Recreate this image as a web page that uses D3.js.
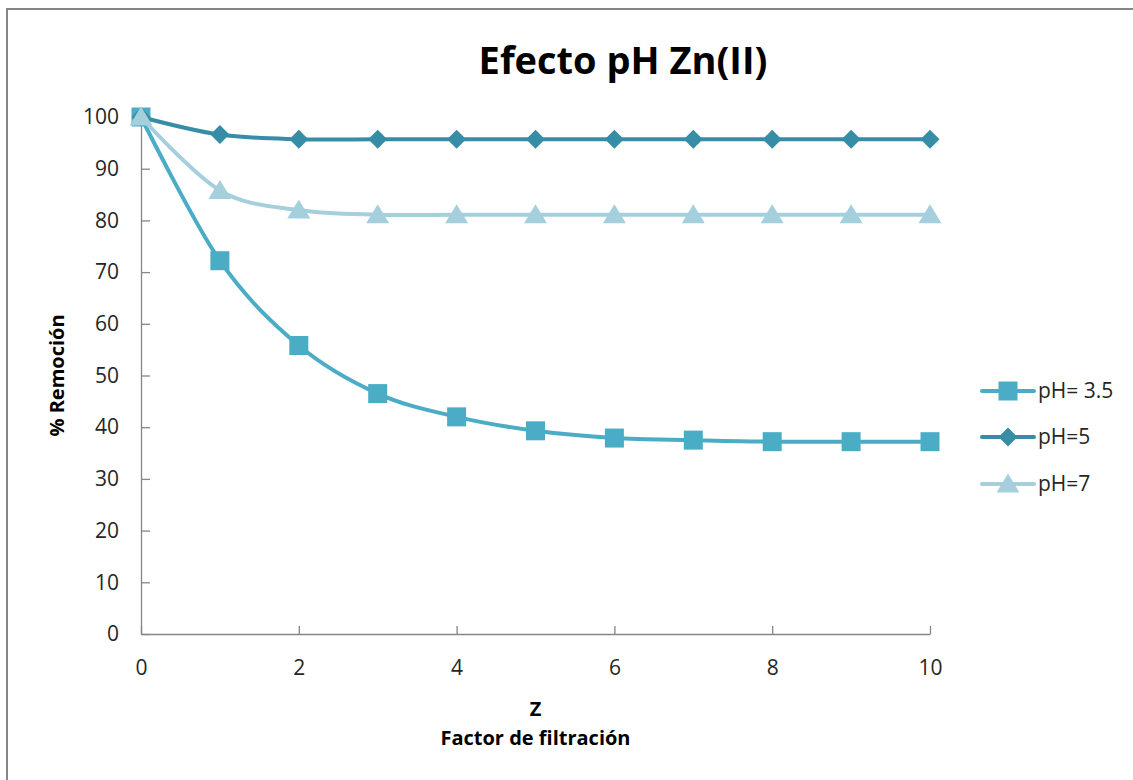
<!DOCTYPE html>
<html>
<head>
<meta charset="utf-8">
<script src="https://cdn.jsdelivr.net/npm/d3@7"></script>
<style>
  html, body { margin: 0; padding: 0; background: #fff; }
  svg { display: block; }
</style>
</head>
<body>
<script>
// ---- data ----
const zValues = [0, 1, 2, 3, 4, 5, 6, 7, 8, 9, 10];
const ph35 = [100, 72.2, 55.8, 46.5, 42.0, 39.3, 37.9, 37.5, 37.2, 37.2, 37.2];
const ph5  = [100, 96.6, 95.7, 95.7, 95.7, 95.7, 95.7, 95.7, 95.7, 95.7, 95.7];
const ph7  = [100, 85.8, 82.0, 81.1, 81.1, 81.1, 81.1, 81.1, 81.1, 81.1, 81.1];
const seriesNames = ["pH= 3.5", "pH=5", "pH=7"];
const xTicks = [0, 2, 4, 6, 8, 10];
const yTicks = [0, 10, 20, 30, 40, 50, 60, 70, 80, 90, 100];
const titleText = "Efecto pH Zn(II)";
const yTitle = "% Remoción";
const xTitle1 = "Z";
const xTitle2 = "Factor de filtración";

// ---- setup ----
const W = 1133, H = 780;
const FONT = "'Open Sans', 'DejaVu Sans', sans-serif";
const svg = d3.select("body").append("svg").attr("width", W).attr("height", H);
svg.append("rect").attr("width", W).attr("height", H).attr("fill", "#fff");
svg.append("rect").attr("x", 7).attr("y", 9).attr("width", W + 20).attr("height", H + 20)
  .attr("fill", "none").attr("stroke", "#868686").attr("stroke-width", 2);

const x = d3.scaleLinear().domain([0, 10]).range([141, 930]);
const y = d3.scaleLinear().domain([0, 100]).range([634, 117]);

const series = [
  { name: seriesNames[0], values: ph35, color: "#4bacc6", marker: "square" },
  { name: seriesNames[1], values: ph5,  color: "#378da6", marker: "diamond" },
  { name: seriesNames[2], values: ph7,  color: "#a5cfdd", marker: "triangle" }
];

// axes
const axisColor = "#868686";
const gx = svg.append("g").attr("transform", `translate(0,${y(0)})`)
  .call(d3.axisBottom(x).tickValues(xTicks).tickSizeInner(-8).tickSizeOuter(0).tickPadding(26).tickFormat(d3.format("d")));
const gy = svg.append("g").attr("transform", `translate(${x(0)},0)`)
  .call(d3.axisLeft(y).tickValues(yTicks).tickSizeInner(-9).tickSizeOuter(0).tickPadding(22).tickFormat(d3.format("d")));
[gx, gy].forEach(g => {
  g.selectAll("path, line").attr("stroke", axisColor).attr("stroke-width", 1.3);
  g.selectAll("text").attr("font-family", FONT).attr("font-size", 21).attr("fill", "#262626");
});
gx.selectAll("text").attr("dy", "0.71em");

// markers
function markerPath(type) {
  if (type === "square") return d3.symbol().type(d3.symbolSquare).size(19 * 19)();
  if (type === "diamond") return "M0,-9.5L9.5,0L0,9.5L-9.5,0Z";
  return "M0,-10.5L11.5,8.5L-11.5,8.5Z";
}

const line = d3.line().x((d, i) => x(zValues[i])).y(d => y(d)).curve(d3.curveCardinal.tension(0));

series.forEach(s => {
  const g = svg.append("g");
  g.append("path").attr("d", line(s.values)).attr("fill", "none")
    .attr("stroke", s.color).attr("stroke-width", 4).attr("stroke-linejoin", "round");
  g.selectAll("path.m").data(s.values).join("path").attr("class", "m")
    .attr("d", markerPath(s.marker))
    .attr("transform", (d, i) => `translate(${x(zValues[i])},${y(d)})`)
    .attr("fill", s.color);
});

// title
svg.append("text").attr("x", 623).attr("y", 74).attr("text-anchor", "middle")
  .attr("font-family", FONT).attr("font-weight", "bold").attr("font-size", 38).attr("fill", "#000")
  .text(titleText);

// axis titles
svg.append("text").attr("transform", `translate(64,${(y(0) + y(100)) / 2}) rotate(-90)`)
  .attr("text-anchor", "middle").attr("font-family", FONT).attr("font-weight", "bold")
  .attr("font-size", 20).attr("fill", "#000").text(yTitle);
svg.append("text").attr("x", (x(0) + x(10)) / 2).attr("y", 716).attr("text-anchor", "middle")
  .attr("font-family", FONT).attr("font-weight", "bold").attr("font-size", 20).attr("fill", "#000").text(xTitle1);
svg.append("text").attr("x", (x(0) + x(10)) / 2).attr("y", 745).attr("text-anchor", "middle")
  .attr("font-family", FONT).attr("font-weight", "bold").attr("font-size", 20).attr("fill", "#000").text(xTitle2);

// legend
const legendY = [391, 437, 484];
series.forEach((s, i) => {
  const g = svg.append("g").attr("transform", `translate(0,${legendY[i]})`);
  g.append("line").attr("x1", 982).attr("x2", 1034).attr("y1", 0).attr("y2", 0)
    .attr("stroke", s.color).attr("stroke-width", 4).attr("stroke-linecap", "round");
  g.append("path").attr("d", markerPath(s.marker)).attr("transform", "translate(1008,0)").attr("fill", s.color);
  g.append("text").attr("x", 1038).attr("y", 0).attr("dy", "0.35em")
    .attr("font-family", FONT).attr("font-size", 21).attr("fill", "#262626").text(s.name);
});
</script>
</body>
</html>
